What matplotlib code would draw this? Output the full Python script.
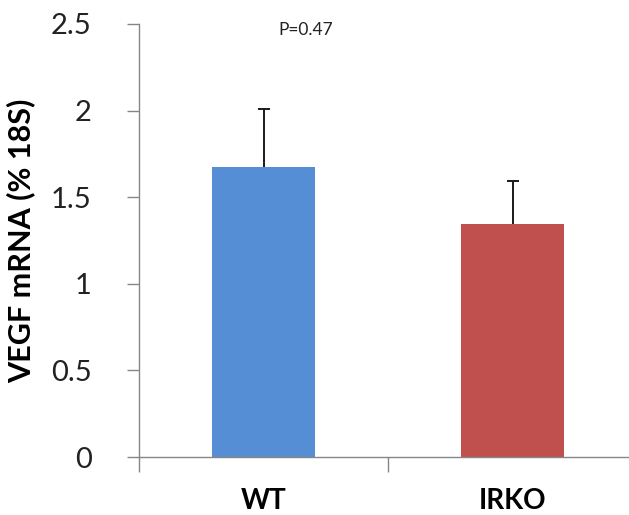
import matplotlib.pyplot as plt

groups = ["WT", "IRKO"]
means = [1.675, 1.345]
errs = [0.335, 0.25]
colors = ["#558ED5", "#C0504D"]
p_text = "P=0.47"

plt.rcParams['font.family'] = ['Lato', 'DejaVu Sans']

fig = plt.figure(figsize=(6.29, 5.15), dpi=100)
ax = fig.add_axes([139 / 629, 1 - 457 / 515, 498 / 629, (457 - 24) / 515])

x = list(range(len(groups)))
# error bars drawn behind the bars so only the upper half shows
ax.errorbar(x, means, yerr=errs, fmt='none',
            ecolor='#1a1a1a', elinewidth=1.4, capsize=4.5, capthick=1.4, zorder=1)
ax.bar(x, means, width=0.414, color=colors, zorder=2)

ax.set_xlim(-0.5, 1.5)
ax.set_ylim(0, 2.5)
ax.set_yticks([0, 0.5, 1, 1.5, 2, 2.5])
ax.set_yticklabels(["0", "0.5", "1", "1.5", "2", "2.5"])
ax.set_xticks(x)
ax.set_xticklabels(groups, fontsize=20, fontweight='bold')
ax.set_xticks([-0.5, 0.5, 1.5], minor=True)

ax.tick_params(axis='y', direction='out', length=9, width=1, color='#868686',
               labelsize=21, labelcolor='#222222', pad=25)
ax.tick_params(axis='x', which='major', length=0, pad=22)
ax.tick_params(axis='x', which='minor', direction='out', length=11, width=1, color='#868686')

for s in ['top', 'right']:
    ax.spines[s].set_visible(False)
for s in ['left', 'bottom']:
    ax.spines[s].set_color('#868686')
    ax.spines[s].set_linewidth(1)

ax.set_ylabel("VEGF mRNA (% 18S)", fontsize=22, fontweight='bold', labelpad=11)
ax.text(0.17, 2.465, p_text, fontsize=12.5, ha='center', va='center', color='#222222')

plt.savefig('out.png', dpi=100)
